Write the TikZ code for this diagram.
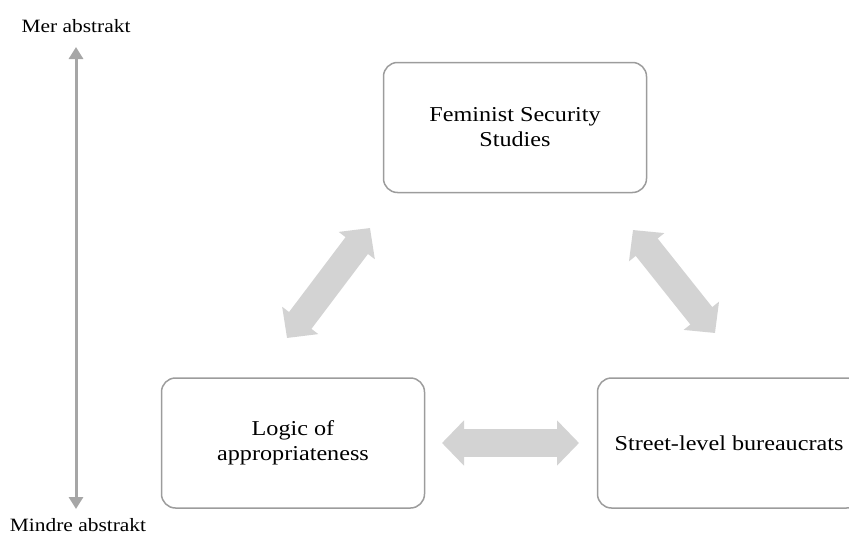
\documentclass[tikz,border=0pt]{standalone}
\usepackage{fontspec}
\setmainfont[FakeStretch=1.14]{Liberation Serif}
\usetikzlibrary{arrows.meta}
\definecolor{boxgray}{HTML}{9C9C9C}
\definecolor{fatgray}{HTML}{D3D3D3}
\definecolor{axisgray}{HTML}{A6A6A6}
\begin{document}
\begin{tikzpicture}[x=1pt,y=-1pt,
  box/.style={draw=boxgray, line width=1.5pt, rounded corners=14pt,
    minimum width=263pt, minimum height=130pt, align=center, inner sep=0pt,
    font=\fontsize{21.2}{25}\selectfont},
  fat/.style={draw=fatgray, line width=28pt,
    {Triangle[width=44pt,length=22pt]}-{Triangle[width=44pt,length=22pt]}},
  axisline/.style={draw=axisgray, line width=3pt,
    {Triangle[width=14pt,length=12pt]}-{Triangle[width=14pt,length=12pt]}},
  lbl/.style={font=\fontsize{18.8}{22}\selectfont, inner sep=0pt}]
\useasboundingbox (0,0) rectangle (849,538);
\clip (0,0) rectangle (849,538);
% axis
\node[lbl] (mer) at (76,26) {Mer abstrakt};
\node[lbl] (mindre) at (78,525) {Mindre abstrakt};
\coordinate (axtop) at (76,47);
\coordinate (axbot) at (76,509);
\draw[axisline] (axbot) -- (axtop);
% boxes
\node[box] (fss) at (515,127.5) {Feminist Security\\Studies};
\node[box] (log) at (293,443) {Logic of\\appropriateness};
\node[box] (slb) at (729,443) {Street-level bureaucrats};
% fat arrows
\coordinate (l1) at (287,338);
\coordinate (l2) at (370,228);
\coordinate (r1) at (633,230);
\coordinate (r2) at (715,333);
\coordinate (h1) at (442,443);
\coordinate (h2) at (579,443);
\draw[fat] (l1) -- (l2);
\draw[fat] (r1) -- (r2);
\draw[fat] (h1) -- (h2);
\end{tikzpicture}
\end{document}
